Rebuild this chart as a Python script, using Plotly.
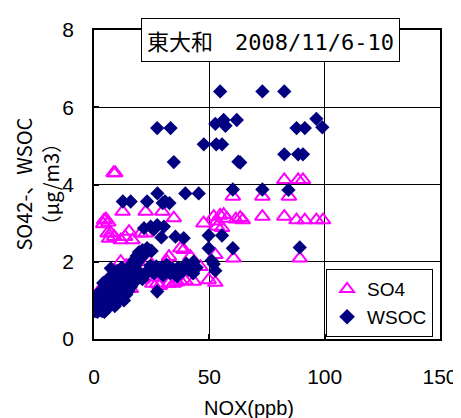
import plotly.graph_objects as go

title_cjk = "東大和"
title_date = "2008/11/6-10"
x_title = "NOX(ppb)"
y_title_1 = "SO42-、WSOC"
y_title_2 = "（μg/m3）"

x_ticks = [0, 50, 100, 150]
y_ticks = [0, 2, 4, 6, 8]

so4_x = [8.5, 9.2, 82.5, 88.5, 90.6, 60.2, 73.0, 84.5, 12.4, 22.4, 29.6, 34.6,
         4.4, 5.2, 6.2, 4.0, 47.5, 51.9, 54.7, 56.2, 57.6, 53.3, 61.5, 63.4, 64.5,
         73.0, 82.5, 87.8, 91.4, 96.4, 99.3, 53.3, 55.5,
         5.9, 7.3, 8.8, 11.6, 15.2, 16.7, 20.3, 22.4, 6.5, 13.5,
         37.5, 38.9, 32.5, 60.5, 89.2, 46.1, 52.6, 41.8,
         43.2, 49.7, 52.6, 32.5, 34.6, 36.0, 37.5, 39.7, 27.4, 28.5, 25.3,
         1.6, 2.2, 11.6, 31.7,
         3.0, 6.0, 9.0, 14.0, 18.0, 20.0, 24.0, 26.0, 30.0, 35.0, 16.0, 12.0, 21.0]
so4_y = [4.30, 4.30, 4.12, 4.12, 4.12, 3.69, 3.69, 3.69, 3.30, 3.30, 3.30, 3.13,
         3.08, 3.10, 3.02, 2.98, 3.00, 3.17, 3.20, 3.22, 3.12, 3.05, 3.10, 3.14, 3.08,
         3.17, 3.17, 3.08, 3.08, 3.08, 3.08, 2.91, 2.88,
         2.74, 2.74, 2.65, 2.56, 2.78, 2.56, 2.74, 2.74, 2.60, 2.65,
         2.35, 2.31, 2.13, 2.09, 2.09, 1.87, 2.18, 2.13,
         1.49, 1.53, 1.46, 1.44, 1.44, 1.47, 1.50, 1.50, 1.44, 1.38, 1.44,
         1.18, 1.12, 2.00, 2.00,
         1.30, 1.50, 1.70, 1.90, 1.60, 1.90, 2.00, 1.60, 1.70, 1.75, 1.30, 1.40, 1.55]

wsoc_x = [54.7, 73.0, 82.5,
          27.4, 33.2, 52.6, 56.2, 57.0, 61.9, 87.8, 91.4, 96.4, 99.0,
          47.6, 53.0, 55.5,
          34.6, 62.6, 63.4, 82.5, 88.5, 90.6,
          60.2, 73.0, 84.3,
          27.5, 39.6, 45.4,
          12.5, 15.9, 23.0, 29.8, 32.7, 30.8,
          21.7, 24.6, 27.4, 30.3, 26.0,
          29.2, 35.3, 38.9,
          49.7, 55.5, 49.7, 60.2, 89.2,
          51.9, 52.6, 51.0,
          43.2, 7.3, 27.4,
          24.5, 27.0, 29.5, 31.5, 34.0, 36.5, 38.5, 41.0, 43.0, 44.5, 40.0, 33.0, 30.0, 26.0, 36.0,
          0.5, 1.5, 2.5, 3.5, 4.5, 2.0, 3.0, 4.0, 5.0, 5.5, 6.0, 6.5, 7.0, 7.5, 8.0, 8.5,
          9.0, 9.5, 10.0, 10.5, 11.0, 11.5, 12.0, 12.5, 13.0, 13.5, 14.0, 14.5, 15.0, 15.5,
          16.0, 16.5, 17.0, 17.5, 18.0, 18.5, 19.0, 19.5, 20.0, 21.0, 22.0, 23.0, 24.0, 25.0,
          3.0, 4.0, 5.0, 6.0, 7.0, 8.0, 9.0, 10.0, 11.0, 12.0, 13.0, 14.0, 15.0, 16.0,
          17.0, 18.0, 19.0, 20.0, 21.0, 22.0, 23.0, 9.0, 11.0, 12.0, 1.0, 2.0, 6.0]
wsoc_y = [6.41, 6.41, 6.41,
          5.46, 5.46, 5.57, 5.67, 5.52, 5.67, 5.46, 5.46, 5.70, 5.48,
          5.04, 5.04, 5.04,
          4.58, 4.59, 4.57, 4.78, 4.78, 4.78,
          3.87, 3.87, 3.86,
          3.77, 3.77, 3.77,
          3.56, 3.56, 3.56, 3.52, 3.52, 3.56,
          2.87, 2.91, 2.95, 2.91, 2.84,
          2.63, 2.65, 2.61,
          2.68, 2.68, 2.35, 2.35, 2.37,
          1.94, 1.77, 2.03,
          2.00, 1.83, 1.23,
          1.90, 1.88, 1.86, 1.92, 1.82, 1.85, 1.76, 1.80, 1.70, 1.85, 1.95, 1.70, 1.65, 1.70, 1.62,
          0.72, 0.70, 0.75, 0.72, 0.70, 0.90, 1.00, 0.95, 0.85, 1.05, 0.80, 1.00, 1.15, 0.90, 1.25, 1.05,
          1.30, 1.10, 0.95, 1.35, 1.20, 1.45, 1.30, 1.55, 1.40, 1.65, 1.50, 1.75, 1.60, 1.85,
          1.70, 1.95, 1.80, 2.05, 1.90, 2.15, 2.00, 2.25, 2.10, 2.30, 2.20, 2.35, 2.30, 2.28,
          1.25, 1.45, 1.35, 1.55, 1.45, 1.65, 1.55, 1.75, 1.65, 1.85, 1.00, 1.15, 1.25, 1.35,
          1.45, 1.50, 1.60, 1.70, 1.55, 1.65, 1.75, 0.85, 1.00, 1.10, 1.05, 1.15, 1.25]

NUM_FONT = "Liberation Sans, Arial, sans-serif"
CJK_FONT = "Noto Sans CJK JP, sans-serif"

fig = go.Figure()
fig.add_trace(go.Scatter(
    x=so4_x, y=so4_y, mode="markers", name="SO4",
    marker=dict(symbol="triangle-up-open", size=13, color="#FF00FF",
                line=dict(width=2, color="#FF00FF")),
))
fig.add_trace(go.Scatter(
    x=wsoc_x, y=wsoc_y, mode="markers", name="WSOC",
    marker=dict(symbol="diamond", size=11, color="#000080",
                line=dict(width=0)),
))

axis_common = dict(
    showgrid=True, gridcolor="black", gridwidth=1,
    zeroline=False, showline=True, linecolor="black", linewidth=1.5,
    mirror=True, ticks="inside", ticklen=5, tickwidth=2, tickcolor="black",
    tickfont=dict(family=NUM_FONT, size=21, color="black"),
    automargin=False,
)

fig.update_xaxes(range=[0, 150], tickvals=x_ticks, ticklabelstandoff=18, **axis_common)
fig.update_yaxes(range=[0, 8], tickvals=y_ticks, ticklabelstandoff=14, **axis_common)

title_html = (title_cjk + "　<span style='font-family:DejaVu Sans Mono'>"
              + title_date + "</span>")

fig.update_layout(
    width=453, height=410,
    margin=dict(l=86, r=21, t=22, b=79, autoexpand=False),
    plot_bgcolor="white", paper_bgcolor="white",
    showlegend=True,
    legend=dict(
        x=0.98, y=0.006, xanchor="right", yanchor="bottom",
        bgcolor="white", bordercolor="black", borderwidth=1,
        font=dict(family=NUM_FONT, size=19, color="black"),
        itemsizing="constant", tracegroupgap=4,
    ),
    annotations=[
        dict(text=title_html, xref="paper", yref="paper", x=0.51, y=0.968,
             xanchor="center", yanchor="middle", showarrow=False,
             font=dict(family=CJK_FONT, size=22, color="black"),
             bgcolor="white", bordercolor="black", borderwidth=1, borderpad=5),
        dict(text=x_title, xref="paper", yref="paper", x=0.448, y=-0.222,
             xanchor="center", yanchor="middle", showarrow=False,
             font=dict(family=NUM_FONT, size=20, color="black")),
        dict(text=y_title_1, xref="paper", yref="paper", x=-0.205, y=0.5,
             xanchor="center", yanchor="middle", showarrow=False, textangle=-90,
             font=dict(family=CJK_FONT, size=20, color="black")),
        dict(text=y_title_2, xref="paper", yref="paper", x=-0.125, y=0.5,
             xanchor="center", yanchor="middle", showarrow=False, textangle=-90,
             font=dict(family=CJK_FONT, size=20, color="black")),
    ],
)

fig.write_html("out.html")
